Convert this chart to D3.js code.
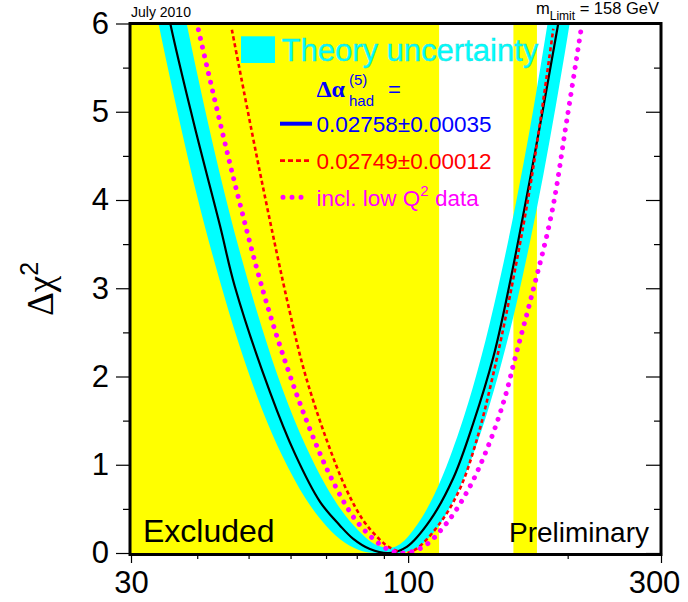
<!DOCTYPE html>
<html><head><meta charset="utf-8">
<script src="https://cdn.jsdelivr.net/npm/d3@7"></script>
<style>
body{margin:0;background:#fff;}
svg{display:block;font-family:Arial,"Liberation Sans",Helvetica,sans-serif;}
</style>
</head><body>
<svg id="c" width="688" height="602"></svg>
<script>
// ---- data ----
const xTickLabels = [30, 100, 300];
const xMinorTicks = [40, 50, 60, 70, 80, 90, 200];
const yTickLabels = [0, 1, 2, 3, 4, 5, 6];
const yMinorTicks = [0.5, 1.5, 2.5, 3.5, 4.5, 5.5];

// excluded regions (GeV)
const excludedFrom = [30, 158];
const excludedTo   = [114.4, 175];

// theory-uncertainty band (envelope)
const bandMass = [30, 33, 36, 40, 44, 48, 53, 58, 64, 70, 76, 82, 86.5, 92, 96.5, 104, 112, 120, 130, 140, 150, 160, 170, 180, 190, 200, 212];
const bandLow  = [7.62, 6.31, 5.23, 4.04, 3.11, 2.36, 1.63, 1.09, 0.62, 0.31, 0.115, 0.02, 0, 0, 0, 0.06, 0.24, 0.52, 0.98, 1.53, 2.15, 2.82, 3.54, 4.29, 5.07, 5.86, 6.83];
const bandHigh = [9.48, 8.01, 6.78, 5.43, 4.33, 3.44, 2.55, 1.85, 1.22, 0.76, 0.43, 0.21, 0.10, 0.06, 0.10, 0.32, 0.66, 1.09, 1.71, 2.41, 3.18, 3.99, 4.83, 5.71, 6.60, 7.50, 8.60];

// Δα_had = 0.02758 ± 0.00035 (black solid)
const blackMass = [33.5, 35.3, 39.3, 44.2, 47.1, 54.9, 61.2, 68.2, 74.4, 78.8, 84.7, 92, 99.4, 110, 121.7, 132.7, 144.8, 154.6, 171.1, 192, 200];
const blackChi2 = [6.9, 6.1, 4.9, 3.7, 3.02, 1.82, 1.12, 0.58, 0.31, 0.16, 0.045, 0, 0.07, 0.37, 0.85, 1.47, 2.22, 2.98, 4.34, 6.0, 6.65];

// Δα_had = 0.02749 ± 0.00012 (red dashed)
const redMass = [46.5, 53.0, 59.7, 63.9, 70.2, 76.6, 82.3, 87.8, 92.4, 99, 103.8, 114.9, 125.3, 134.7, 144.8, 155.7, 171, 187.9];
const redChi2 = [5.93, 4.2, 2.75, 2.03, 1.28, 0.71, 0.37, 0.17, 0.06, 0, 0.05, 0.34, 0.73, 1.28, 2.03, 2.92, 4.25, 5.94];

// incl. low Q² data (magenta dotted)
const magMass = [40.2, 46.6, 53.3, 59.0, 64.8, 71.2, 78.8, 86.0, 91.7, 98, 106.8, 118.3, 129.9, 140.7, 151.2, 160.3, 171.1, 186.6, 199.2, 212.6];
const magChi2 = [5.93, 4.3, 2.96, 2.12, 1.45, 0.88, 0.41, 0.16, 0.04, 0, 0.07, 0.34, 0.72, 1.17, 1.70, 2.28, 2.92, 3.85, 4.90, 5.98];

const legendLabels = ["Theory uncertainty", "0.02758\u00B10.00035", "0.02749\u00B10.00012"];

// ---- drawing ----
const svg = d3.select("#c");
const L = 131, R = 661, T = 23.5, B = 553;
const x = d3.scaleLog().domain([30, 300]).range([L, R]);
const y = d3.scaleLinear().domain([0, 6]).range([B, T]);

svg.append("defs").append("clipPath").attr("id", "clip")
  .append("rect").attr("x", L).attr("y", T).attr("width", R - L).attr("height", B - T);

const plot = svg.append("g").attr("clip-path", "url(#clip)");

// excluded yellow regions
plot.selectAll("rect.exc").data(excludedFrom).enter().append("rect")
  .attr("x", d => x(d)).attr("y", T)
  .attr("width", (d, i) => x(excludedTo[i]) - x(d))
  .attr("height", B - T)
  .attr("fill", "#ffff00");

const curve = d3.curveCatmullRom.alpha(0.5);

// band
const area = d3.area()
  .x((d, i) => x(bandMass[i]))
  .y0((d, i) => y(bandLow[i]))
  .y1((d, i) => y(bandHigh[i]))
  .curve(curve);
plot.append("path").attr("d", area(bandMass)).attr("fill", "#00ffff");

function line(ms, cs) {
  return d3.line().x((d, i) => x(ms[i])).y((d, i) => y(cs[i])).curve(curve)(ms);
}
plot.append("path").attr("d", line(blackMass, blackChi2))
  .attr("fill", "none").attr("stroke", "#000").attr("stroke-width", 2.2);
plot.append("path").attr("d", line(redMass, redChi2))
  .attr("fill", "none").attr("stroke", "#ff0000").attr("stroke-width", 2.6)
  .attr("stroke-dasharray", "4,3");
plot.append("path").attr("d", line(magMass, magChi2))
  .attr("fill", "none").attr("stroke", "#ff00ff").attr("stroke-width", 5)
  .attr("stroke-linecap", "round").attr("stroke-dasharray", "0.01,9");

// axes
const gx = svg.append("g").attr("transform", `translate(0,${B})`)
  .call(d3.axisBottom(x).tickValues(xTickLabels).tickFormat(d3.format("d")).tickSize(10).tickPadding(8));
gx.append("g").call(d3.axisBottom(x).tickValues(xMinorTicks).tickFormat("").tickSize(6));
const gy = svg.append("g").attr("transform", `translate(${L},0)`)
  .call(d3.axisLeft(y).tickValues(yTickLabels).tickFormat(d3.format("d")).tickSize(15).tickPadding(7));
gy.append("g").call(d3.axisLeft(y).tickValues(yMinorTicks).tickFormat("").tickSize(8));
const gr = svg.append("g").attr("transform", `translate(${R},0)`)
  .call(d3.axisLeft(y).tickValues(yTickLabels).tickFormat("").tickSize(15));
gr.append("g").call(d3.axisLeft(y).tickValues(yMinorTicks).tickFormat("").tickSize(7));
svg.selectAll(".domain").remove();
svg.selectAll(".tick line").attr("stroke", "#000").attr("stroke-width", 1.2);
svg.selectAll(".tick text").attr("font-size", 31).attr("fill", "#000")
  .attr("font-family", "Arial,'Liberation Sans',sans-serif");
gx.selectAll(".tick text").filter(d => d === 300).attr("dx", -7);

// frame
svg.append("rect").attr("x", L - 1).attr("y", T).attr("width", R - L + 1).attr("height", B - T + 1.5)
  .attr("fill", "none").attr("stroke", "#000").attr("stroke-width", 3);

// y title
const yt = svg.append("text").attr("transform", "translate(53,289) rotate(-90)")
  .attr("text-anchor", "middle").attr("font-family", "'Liberation Serif','DejaVu Serif',serif")
  .attr("font-size", 37).attr("fill", "#000");
yt.append("tspan").text("\u0394\u03C7");
yt.append("tspan").attr("dy", -15).attr("font-size", 25).attr("font-family", "Arial,'Liberation Sans',sans-serif").text("2");

// top labels
svg.append("text").attr("x", 131).attr("y", 17).attr("font-size", 14).text("July 2010");
const ml = svg.append("text").attr("x", 659).attr("y", 13.5).attr("text-anchor", "end").attr("font-size", 16.5);
ml.append("tspan").text("m");
ml.append("tspan").attr("dy", 6).attr("font-size", 12).text("Limit");
ml.append("tspan").attr("dy", -6).text(" = 158 GeV");

// in-plot labels
svg.append("text").attr("x", 143).attr("y", 541.5).attr("font-size", 32).text("Excluded");
svg.append("text").attr("x", 649).attr("y", 541.5).attr("text-anchor", "end").attr("font-size", 28).text("Preliminary");

// legend
svg.append("rect").attr("x", 241).attr("y", 36.3).attr("width", 34).attr("height", 26.7).attr("fill", "#00ffff");
svg.append("text").attr("x", 281.5).attr("y", 61.3).attr("font-size", 31).attr("fill", "#00ffff")
  .attr("stroke", "#22d8d8").attr("stroke-width", 0.4).text(legendLabels[0]);

const da = svg.append("text").attr("x", 316.5).attr("y", 96.5).attr("fill", "#0000ff");
da.append("tspan").attr("font-family", "'Liberation Serif','DejaVu Serif',serif").attr("font-size", 24).attr("font-weight", "bold").text("\u0394\u03B1");
svg.append("text").attr("x", 349).attr("y", 85).attr("fill", "#0000ff").attr("font-size", 15).text("(5)");
svg.append("text").attr("x", 349).attr("y", 106).attr("fill", "#0000ff").attr("font-size", 15).text("had");
svg.append("text").attr("x", 388).attr("y", 97).attr("fill", "#0000ff").attr("font-size", 22).text("=");

svg.append("line").attr("x1", 280).attr("x2", 312).attr("y1", 123.7).attr("y2", 123.7)
  .attr("stroke", "#0000ff").attr("stroke-width", 4);
svg.append("text").attr("x", 316.5).attr("y", 131.5).attr("font-size", 22.5).attr("fill", "#0000ff").text(legendLabels[1]);

svg.append("line").attr("x1", 280).attr("x2", 312).attr("y1", 160.7).attr("y2", 160.7)
  .attr("stroke", "#ff0000").attr("stroke-width", 2.8).attr("stroke-dasharray", "5,3");
svg.append("text").attr("x", 316.5).attr("y", 168.7).attr("font-size", 22.5).attr("fill", "#ff0000").text(legendLabels[2]);

svg.append("line").attr("x1", 283).attr("x2", 303).attr("y1", 197.3).attr("y2", 197.3)
  .attr("stroke", "#ff00ff").attr("stroke-width", 5).attr("stroke-linecap", "round").attr("stroke-dasharray", "0.01,9");
const lq = svg.append("text").attr("x", 316.5).attr("y", 206.3).attr("font-size", 22.5).attr("fill", "#ff00ff");
lq.append("tspan").text("incl. low Q");
lq.append("tspan").attr("dy", -10).attr("font-size", 15).text("2");
lq.append("tspan").attr("dy", 10).text(" data");
</script>
</body></html>
